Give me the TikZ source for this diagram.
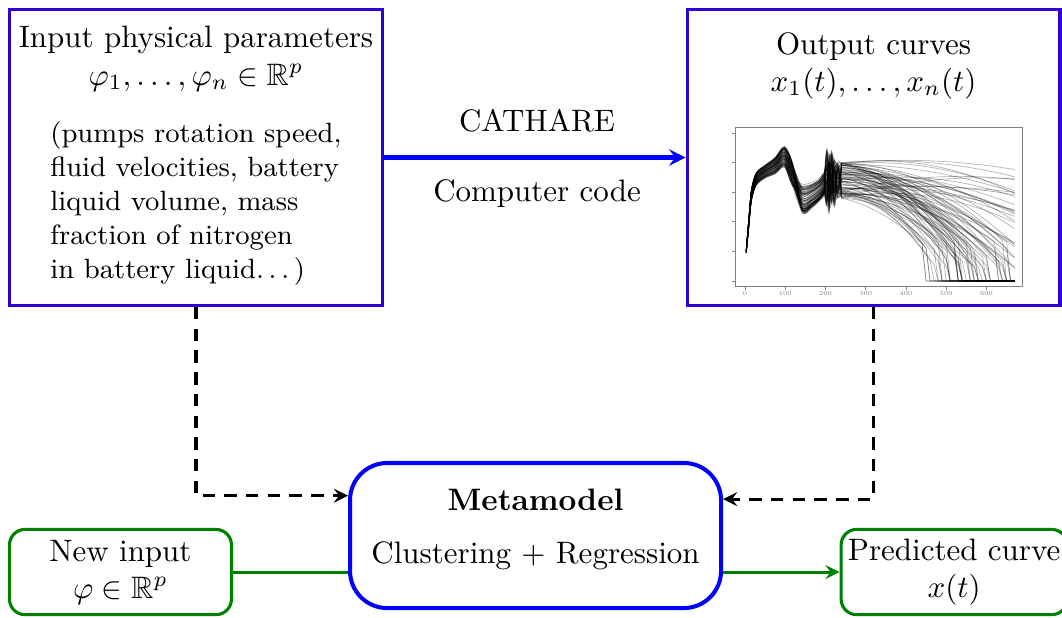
\documentclass[tikz,border=0pt]{standalone}
\usepackage{amsmath,amssymb}
\definecolor{topblue}{RGB}{50,0,210}
\tikzset{
  topbox/.style={draw=topblue, line width=1pt, minimum width=120.3pt, minimum height=95.5pt, align=center, inner sep=0pt},
  metabox/.style={draw=blue, line width=1.3pt, rounded corners=12pt, minimum width=119.7pt, minimum height=46.8pt, align=center},
  greenbox/.style={draw=green!50!black, line width=1pt, rounded corners=5pt, minimum height=27.5pt, align=center, inner ysep=3pt, inner xsep=2.2pt},
  dasharrow/.style={-stealth, line width=1pt, dash pattern=on 4pt off 3pt},
  curve/.style={black, opacity=.3, line width=.22pt}
}
\begin{document}
\begin{tikzpicture}
  \useasboundingbox (0,0) rectangle (12.041,6.996);

  \node[topbox] (input) at (2.222,5.210) {Input physical parameters\\ $\varphi_1,\ldots,\varphi_n\in\mathbb{R}^p$\\[6.4pt]
    {\small\begin{tabular}[t]{@{}l@{}}(pumps rotation speed,\\ fluid velocities, battery\\ liquid volume, mass\\ fraction of nitrogen\\ in battery liquid.\,.\,.\,)\end{tabular}}};
  \node[topbox] (output) at (9.904,5.210) {};
  \node[anchor=north, align=center] (outtitle) at ([yshift=-4.3pt]output.north) {Output curves\\ $x_1(t),\ldots,x_n(t)$};

  \draw[-stealth, blue, line width=1.3pt] (input) -- (output);
  \node (cathare) at (6.089,5.630) {CATHARE};
  \node (code) at (6.089,4.796) {Computer code};

  \begin{scope}[shift={(8.447,3.810)}, x=0.004569cm, y=0.3356cm]
    \draw[gray, line width=.3pt] (-24.8,-0.2) rectangle (689.8,5.17);
    \foreach \d in {0,100,...,600}
      \draw[gray, line width=.2pt] (\d,-0.2) -- (\d,-0.3) node[below, inner sep=.4pt, text=gray, font=\fontsize{2}{2}\selectfont] {\d};
    \foreach \v in {0,...,5}
      \draw[gray, line width=.2pt] (-24.8,\v) -- (-32,\v);
    \pgfmathsetseed{57}
    \foreach \i in {1,...,85} {
      \pgfmathsetmacro{\ra}{rand}
      \pgfmathsetmacro{\rb}{rand}
      \pgfmathsetmacro{\vo}{3.4+0.6*rand}
      \pgfmathsetmacro{\bb}{2*rnd*rnd}
      \pgfmathsetmacro{\kk}{0.6+8*rnd}
      \pgfmathsetmacro{\lin}{0.3*rnd}
      \pgfmathsetmacro{\thr}{0.3+1.0*rnd}
      \draw[curve] plot[smooth] coordinates {(3,{1+0.06*\ra}) (9,{1.9+0.15*\ra}) (16,{2.9+0.2*\ra}) (28,{3.45+0.22*\ra})
          (50,{3.7+0.22*\ra}) (75,{3.9+0.28*\ra}) (98,{4.2+0.35*\ra}) (118,{3.6+0.4*\ra}) (142,{2.8+0.5*\rb})
          (165,{2.9+0.45*\rb}) (185,{3.1+0.4*\rb}) (196,{3.3+0.4*\rb}) (203,{3.5+1.0*rand}) (209,{3.3+1.0*rand})
          (215,{3.5+0.9*rand}) (222,{3.3+0.8*rand}) (230,{3.4+0.6*rand}) (240,\vo)}
        -- plot[domain=240:670, samples=44] (\x,{(\vo+\bb*(\x-240)/430-\kk*(\lin*(\x-240)/430+(1-\lin)*((\x-240)/430)*((\x-240)/430))<\thr) ? 0
          : (\vo+\bb*(\x-240)/430-\kk*(\lin*(\x-240)/430+(1-\lin)*((\x-240)/430)*((\x-240)/430)))});
    }
  \end{scope}

  \node[metabox] (meta) at (6.072,0.924) {\textbf{Metamodel}\\[5.4pt] Clustering + Regression\\[-6pt]\mbox{}};
  \node[greenbox, minimum width=71.6pt] (newin) at (1.366,0.510) {New input\\ $\varphi\in\mathbb{R}^p$};
  \node[greenbox, anchor=west] (pred) at (9.519,0.510) {Predicted curve\\ $x(t)$};

  \draw[dasharrow] (input.south) |- (meta.168.5);
  \draw[dasharrow] (output.south) |- (meta.11.5);
  \draw[green!50!black, line width=1pt] (newin.east) -- (newin.east -| meta.west);
  \draw[-stealth, green!50!black, line width=1pt] (pred.west -| meta.east) -- (pred.west);
\end{tikzpicture}
\end{document}
